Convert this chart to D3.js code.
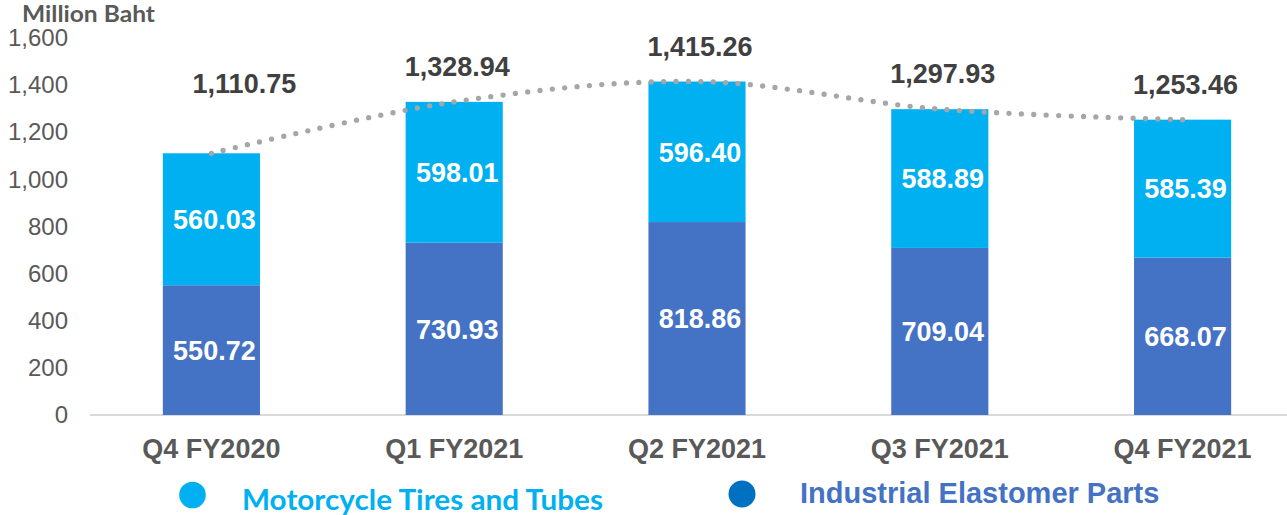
<!DOCTYPE html>
<html>
<head>
<meta charset="utf-8">
<script src="https://cdn.jsdelivr.net/npm/d3@7"></script>
<style>
  body { margin: 0; background: #fff; }
  svg { display: block; font-family: "Liberation Sans", Arial, sans-serif; }
</style>
</head>
<body>
<script>
// chart values
const quarters = ["Q4 FY2020", "Q1 FY2021", "Q2 FY2021", "Q3 FY2021", "Q4 FY2021"];
const industrial = [550.72, 730.93, 818.86, 709.04, 668.07];
const motorcycle = [560.03, 598.01, 596.40, 588.89, 585.39];
const totals = [1110.75, 1328.94, 1415.26, 1297.93, 1253.46];
const yTicks = [0, 200, 400, 600, 800, 1000, 1200, 1400, 1600];
const seriesNames = ["Industrial Elastomer Parts", "Motorcycle Tires and Tubes"];

const W = 1287, H = 515;
const colors = { ind: "#4472c4", moto: "#00b0f0", grey: "#595959", dark: "#404040" };

const svg = d3.select("body").append("svg").attr("width", W).attr("height", H);

// Scales
const x = d3.scaleBand().domain(quarters).range([90, 1304]).paddingInner(0.6).paddingOuter(0.3);
const y = d3.scaleLinear().domain([0, 1600]).range([415, 38]);

// table for stacking
const rows = quarters.map((q, i) => ({ q: q, ind: industrial[i], moto: motorcycle[i], total: totals[i] }));
const stack = d3.stack().keys(["ind", "moto"])(rows);

// y axis (labels only)
const yAxis = svg.append("g")
  .attr("transform", "translate(71,0)")
  .call(d3.axisLeft(y).tickValues(yTicks).tickSize(0).tickFormat(d3.format(",")));
yAxis.select(".domain").remove();
yAxis.selectAll("text")
  .attr("fill", colors.grey)
  .style("font-size", "24px")
  .style("font-family", "'Liberation Sans', Arial, sans-serif");

// baseline
svg.append("line")
  .attr("x1", 90).attr("x2", 1304)
  .attr("y1", y(0)).attr("y2", y(0))
  .attr("stroke", "#d9d9d9").attr("stroke-width", 2);

// x axis
const xAxis = svg.append("g")
  .attr("transform", `translate(0,${y(0)})`)
  .call(d3.axisBottom(x).tickSize(0).tickPadding(24));
xAxis.select(".domain").remove();
xAxis.selectAll("text")
  .attr("fill", colors.grey)
  .style("font-size", "27px")
  .style("font-weight", "bold")
  .style("font-family", "'Liberation Sans', Arial, sans-serif");

// bars
const layer = svg.selectAll("g.layer")
  .data(stack)
  .join("g")
  .attr("class", "layer")
  .attr("fill", (d) => colors[d.key]);

layer.selectAll("rect")
  .data((d) => d)
  .join("rect")
  .attr("x", (d) => x(d.data.q))
  .attr("y", (d) => y(d[1]))
  .attr("width", x.bandwidth())
  .attr("height", (d) => y(d[0]) - y(d[1]));

// segment labels
layer.selectAll("text")
  .data((d) => d.map((v) => ({ v: v, key: d.key })))
  .join("text")
  .attr("x", (d) => x(d.v.data.q) + x.bandwidth() / 2 + 3)
  .attr("y", (d) => (y(d.v[0]) + y(d.v[1])) / 2)
  .attr("dy", "0.36em")
  .attr("text-anchor", "middle")
  .attr("fill", "#fff")
  .style("font-size", "27px")
  .style("font-weight", "bold")
  .text((d) => d3.format(".2f")(d.v.data[d.key]));

// dotted total line
const line = d3.line()
  .x((d) => x(d.q) + x.bandwidth() / 2)
  .y((d) => y(d.total))
  .curve(d3.curveCatmullRom);

svg.append("path")
  .datum(rows)
  .attr("d", line)
  .attr("fill", "none")
  .attr("stroke", "#a6a6a6")
  .attr("stroke-width", 5.3)
  .attr("stroke-linecap", "round")
  .attr("stroke-dasharray", "0 12.4");

// total labels (the first one sits higher and to the right in the original)
svg.append("g").selectAll("text")
  .data(rows)
  .join("text")
  .attr("x", (d, i) => x(d.q) + x.bandwidth() / 2 + 3 + (i === 0 ? 30 : 0))
  .attr("y", (d, i) => y(d.total) - 26 - (i === 0 ? 34 : 0))
  .attr("text-anchor", "middle")
  .attr("fill", colors.dark)
  .style("font-size", "27px")
  .style("font-weight", "bold")
  .text((d) => d3.format(",.2f")(d.total));

// axis title
svg.append("text")
  .attr("x", 22).attr("y", 22)
  .attr("fill", colors.grey)
  .attr("textLength", 133)
  .attr("lengthAdjust", "spacingAndGlyphs")
  .style("font-family", "Lato, 'Liberation Sans', sans-serif")
  .style("font-size", "23px")
  .style("font-weight", "bold")
  .text("Million Baht");

// legend
const legend = svg.append("g");
legend.append("circle").attr("cx", 192.5).attr("cy", 495).attr("r", 13.3).attr("fill", colors.moto);
legend.append("text")
  .attr("x", 242).attr("y", 510)
  .attr("fill", colors.moto)
  .attr("textLength", 361)
  .attr("lengthAdjust", "spacingAndGlyphs")
  .style("font-family", "Lato, 'Open Sans', sans-serif")
  .style("font-size", "28px")
  .style("font-weight", "bold")
  .text(seriesNames[1]);

legend.append("circle").attr("cx", 742).attr("cy", 494).attr("r", 13.5).attr("fill", "#0070c0");
legend.append("text")
  .attr("x", 800).attr("y", 503)
  .attr("fill", colors.ind)
  .style("font-size", "29px")
  .style("font-weight", "bold")
  .text(seriesNames[0]);
</script>
</body>
</html>
